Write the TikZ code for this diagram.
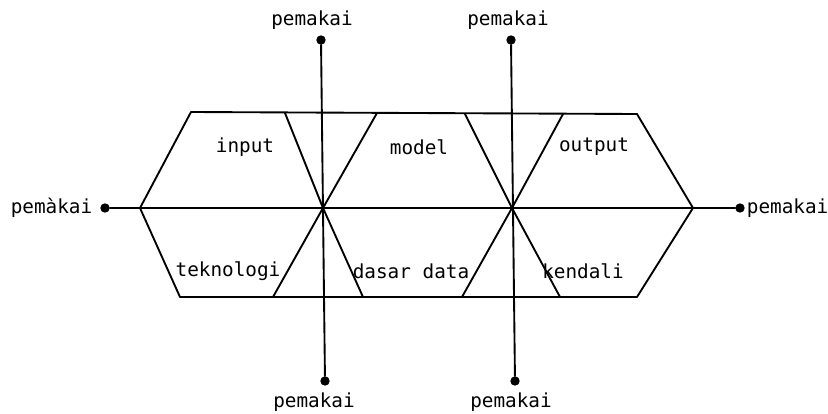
\documentclass[tikz,border=0pt]{standalone}
\usepackage{fontspec}
\setmonofont{DejaVu Sans Mono}
\usetikzlibrary{positioning}

\begin{document}
\begin{tikzpicture}[
    x=0.03cm, y=-0.03cm,
    line/.style={line width=1.6pt, draw=black, line cap=round, line join=round},
    dot/.style={circle, fill=black, inner sep=0pt, minimum size=8pt},
    user/.style={font=\ttfamily\fontsize{16.5}{16.5}\selectfont, inner sep=0.5pt},
    part/.style={font=\ttfamily\fontsize{16.5}{16.5}\selectfont, inner sep=1pt}
]
\useasboundingbox (0,0) rectangle (828,414);

% Corners of the hexagon
\coordinate (hexL)  at (140,208);
\coordinate (hexTL) at (191,112);
\coordinate (hexTR) at (637,114);
\coordinate (hexR)  at (693,208);
\coordinate (hexBR) at (637,297);
\coordinate (hexBL) at (180,297);

% Crossing points on the middle line
\coordinate (crossA) at (323,208);
\coordinate (crossB) at (512,208);

% ==================== User end points ====================
\node[dot] (userL) at (105,208) {};
\node[dot] (userR) at (740,208) {};
\node[dot] (userTA) at (321,40) {};
\node[dot] (userBA) at (325,381) {};
\node[dot] (userTB) at (511,40) {};
\node[dot] (userBB) at (515,381) {};

\node[user, left=6pt of userL] (labL) {pemàkai};
\node[user, right=1pt of userR] (labR) {pemakai};
\node[user] (labTA) at (312,20) {pemakai};
\node[user] (labTB) at (508,20) {pemakai};
\node[user] (labBA) at (314,402) {pemakai};
\node[user] (labBB) at (511,402) {pemakai};

% ==================== Hexagon ====================
\draw[line] (hexL) -- (hexTL) -- (hexTR) -- (hexR) -- (hexBR) -- (hexBL) -- cycle;

% middle line and the two uprights
\draw[line] (userL) -- (userR);
\draw[line] (userTA) -- (userBA);
\draw[line] (userTB) -- (userBB);

% ==================== Hourglasses ====================
\draw[line] (285,113) -- (crossA) -- (363,297);
\draw[line] (377,113) -- (crossA) -- (273,297);
\draw[line] (465,114) -- (crossB) -- (560,297);
\draw[line] (563,114) -- (crossB) -- (462,297);

% ==================== Parts ====================
\node[part] (input)  at (245,147) {input};
\node[part] (model)  at (419,147) {model};
\node[part] (output) at (594,147) {output};
\node[part] (tekno)  at (228,271) {teknologi};
\node[part] (dasar)  at (411,271) {dasar data};
\node[part] (kendali) at (583,271) {kendali};

\end{tikzpicture}
\end{document}
